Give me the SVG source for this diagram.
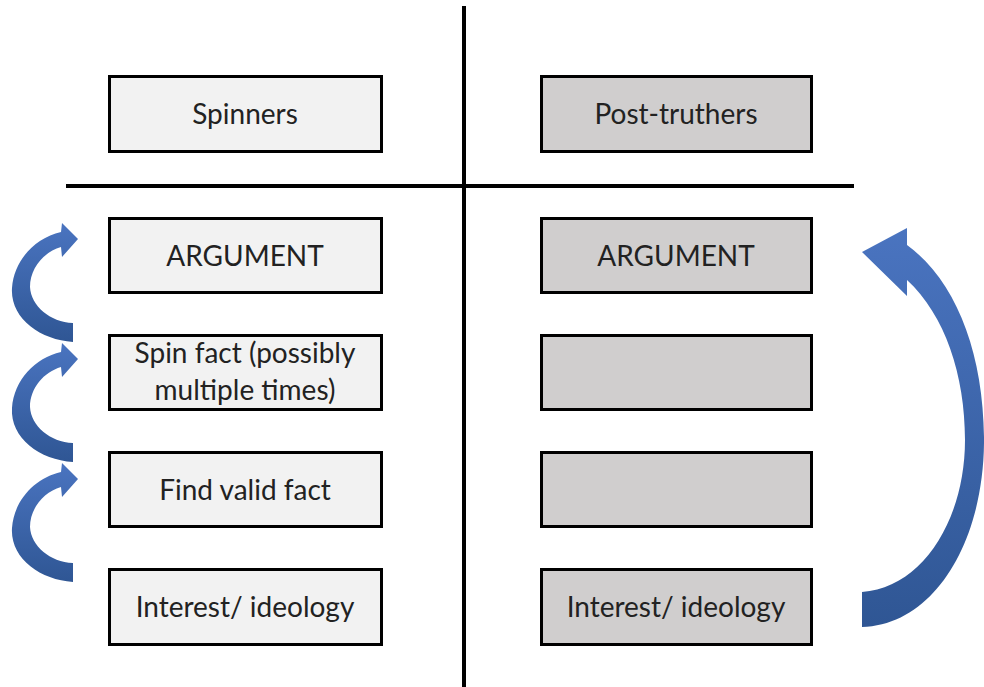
<svg xmlns="http://www.w3.org/2000/svg" width="984" height="687" viewBox="0 0 984 687">
<defs>
<linearGradient id="ga" x1="0" y1="0" x2="0" y2="1">
<stop offset="0" stop-color="#4a74c0"/>
<stop offset="1" stop-color="#2f5694"/>
</linearGradient>
</defs>
<style>
.l rect{fill:#f2f2f2;stroke:#000;stroke-width:3}
.r rect{fill:#d0cece;stroke:#000;stroke-width:3}
text{font-family:Lato,"Open Sans","Liberation Sans",sans-serif;font-size:28px;fill:#222;text-anchor:middle}
.div{stroke:#000;stroke-width:4}
.arr{fill:url(#ga)}
</style>
<rect width="984" height="687" fill="#fff"/>
<g id="dividers">
<line class="div" x1="464" y1="6" x2="464" y2="687"/>
<line class="div" x1="66" y1="186" x2="854" y2="186"/>
</g>
<g id="spinners" class="l"><rect x="109.5" y="76.5" width="272" height="75"/><text x="245" y="124">Spinners</text></g>
<g id="l-argument" class="l"><rect x="109.5" y="218.5" width="272" height="74"/><text x="245" y="266">ARGUMENT</text></g>
<g id="l-spin" class="l"><rect x="109.5" y="335.5" width="272" height="74"/><text x="245" y="363">Spin fact (possibly</text><text x="245" y="400">multiple times)</text></g>
<g id="l-find" class="l"><rect x="109.5" y="452.5" width="272" height="74"/><text x="245" y="500">Find valid fact</text></g>
<g id="l-interest" class="l"><rect x="109.5" y="569.5" width="272" height="75"/><text x="245" y="617">Interest/ ideology</text></g>
<g id="posttruthers" class="r"><rect x="541.5" y="76.5" width="270" height="75"/><text x="676" y="124">Post-truthers</text></g>
<g id="r-argument" class="r"><rect x="541.5" y="218.5" width="270" height="74"/><text x="676" y="266">ARGUMENT</text></g>
<g id="r-empty1" class="r"><rect x="541.5" y="335.5" width="270" height="74"/></g>
<g id="r-empty2" class="r"><rect x="541.5" y="452.5" width="270" height="74"/></g>
<g id="r-interest" class="r"><rect x="541.5" y="569.5" width="270" height="75"/><text x="676" y="617">Interest/ ideology</text></g>
<g id="connectors">
<path class="arr" d="M73,342 C40,340 10,318 12,288 C14,260 35,238 61,232 L62,223 L78,239 L62,257 L61,247 C44,252 30,268 30,287 C31,306 50,322 73,323 Z"/>
<path class="arr" transform="translate(0,120)" d="M73,342 C40,340 10,318 12,288 C14,260 35,238 61,232 L62,223 L78,239 L62,257 L61,247 C44,252 30,268 30,287 C31,306 50,322 73,323 Z"/>
<path class="arr" transform="translate(0,240)" d="M73,342 C40,340 10,318 12,288 C14,260 35,238 61,232 L62,223 L78,239 L62,257 L61,247 C44,252 30,268 30,287 C31,306 50,322 73,323 Z"/>
<path class="arr" d="M862,627 C935,625 985,540 984,437 C983,350 955,280 907,245 L907,228 L862,252 L907,296 L907,280 C945,315 965,375 965,440 C965,520 922,588 862,592 Z"/>
</g>
</svg>
